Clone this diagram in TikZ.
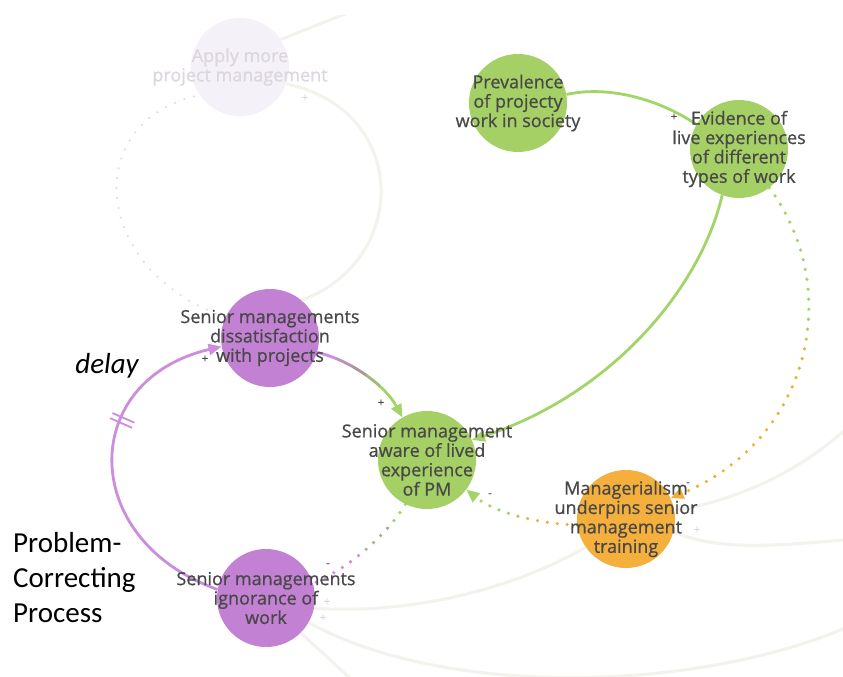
\documentclass[tikz,border=0pt]{standalone}
\usepackage{fontspec}
\usetikzlibrary{arrows.meta,decorations.markings}
\newfontfamily\nodefont{Open Sans}[FakeBold=0.7,BoldFont={Open Sans},BoldFeatures={FakeBold=0.7}]
\newfontfamily\calfont{Carlito}

\definecolor{purp}{HTML}{C281D3}
\definecolor{purpedge}{HTML}{CC8EDC}
\definecolor{grn}{HTML}{A4D065}
\definecolor{grnedge}{HTML}{A3D468}
\definecolor{orng}{HTML}{F4AF3C}
\definecolor{orngdot}{HTML}{F0B038}
\definecolor{brownmid}{HTML}{A89694}
\definecolor{olivemid}{HTML}{B0AC8E}
\definecolor{faintfill}{HTML}{F5F1F8}
\definecolor{faintline}{HTML}{F4F2ED}
\definecolor{fainttext}{HTML}{DCD6DE}
\definecolor{txt}{HTML}{484848}

\tikzset{
  circ/.style={circle, minimum size=98pt, inner sep=0pt, draw=none},
  lbl/.style={font=\nodefont\bfseries\fontsize{18}{19.4}\selectfont, text=txt, align=center, inner sep=0pt},
  pol/.style={font=\nodefont\fontsize{11}{12}\selectfont, text=txt, inner sep=0pt},
  faintpol/.style={pol, text=fainttext},
  solidedge/.style={line width=2.8pt},
  dotedge/.style={line width=3.6pt, line cap=round, dash pattern=on 0pt off 10pt},
  faintedge/.style={line width=3pt, faintline},
  tip/.style={-{Triangle[length=13pt,width=11pt]}},
  notip/.style={-{Triangle[length=0.01pt,width=0.01pt]}},
  bigtext/.style={font=\calfont\fontsize{29}{35}\selectfont, text=black, inner sep=0pt}
}

% connectors that change colour along their length
\newcommand\dissatAware[1]{\draw[solidedge, tip, #1] (dissat.-17) .. controls (350,360) and (385,385) .. (aware.120);}
\newcommand\evidManag[1]{\draw[dotedge, tip, #1] (evid.-52) .. controls (845,290) and (810,440) .. (manag.25);}
\newcommand\managAware[1]{\draw[dotedge, tip, #1] (manag.187) .. controls (540,524) and (495,513) .. (aware.-37);}
\newcommand\awareIgnor[1]{\draw[dotedge, notip, #1] (aware.244) .. controls (390,530) and (355,565) .. (ignor.17);}

\begin{document}
\begin{tikzpicture}[x=1pt,y=-1pt]
\useasboundingbox (0,0) rectangle (843,677);
\fill[white] (0,0) rectangle (843,677);

\begin{scope}
\clip (0,16) rectangle (843,677);

% factors
\node[circ, fill=faintfill] (apply) at (240,67) {};
\node[circ, fill=grn] (prev) at (518,103) {};
\node[circ, fill=grn] (evid) at (739,149) {};
\node[circ, fill=purp] (dissat) at (270,338) {};
\node[circ, fill=grn] (aware) at (427,460) {};
\node[circ, fill=orng] (manag) at (626,519) {};
\node[circ, fill=purp] (ignor) at (266,598) {};

% faded connectors outside the loop
\coordinate (topexit) at (350,12);
\coordinate (rightA) at (845,430);
\coordinate (rightB) at (845,540);
\coordinate (rightC) at (845,628);
\coordinate (bottomexit) at (352,680);
\draw[faintedge] (apply.34) -- (topexit);
\draw[faintedge] (apply.-20) .. controls (410,110) and (410,260) .. (dissat.50);
\draw[dotedge, black!12, line width=2.5pt] (dissat.155) .. controls (90,270) and (80,120) .. (apply.215);
\draw[faintedge] (ignor.-12) .. controls (420,615) and (520,585) .. (manag.215);
\draw[faintedge] (ignor.-30) .. controls (450,700) and (700,690) .. (rightC);
\draw[faintedge] (ignor.-45) -- (bottomexit);
\draw[faintedge] (manag.10) .. controls (740,500) and (800,470) .. (rightA);
\draw[faintedge] (manag.-15) .. controls (720,552) and (780,545) .. (rightB);

% green links
\draw[solidedge, grnedge] (prev.10) .. controls (610,85) and (660,100) .. (evid.150);
\draw[solidedge, grnedge, tip] (evid.250) .. controls (700,290) and (610,395) .. (aware.24);

% evidence -> managerialism, green fading into orange
\begin{scope}\clip (0,0) rectangle (843,320); \evidManag{grnedge} \end{scope}
\begin{scope}\clip (0,320) rectangle (843,345); \evidManag{grnedge!50!orngdot} \end{scope}
\begin{scope}\clip (0,345) rectangle (843,375); \evidManag{orngdot!80!grnedge} \end{scope}
\begin{scope}\clip (0,375) rectangle (843,677); \evidManag{orngdot} \end{scope}

% managerialism -> awareness, orange fading into green
\begin{scope}\clip (545,0) rectangle (843,677); \managAware{orngdot} \end{scope}
\begin{scope}\clip (515,0) rectangle (545,677); \managAware{orngdot!50!grnedge} \end{scope}
\begin{scope}\clip (0,0) rectangle (515,677); \managAware{grnedge} \end{scope}

% dissatisfaction -> awareness, purple fading into green
\begin{scope}\clip (0,0) rectangle (337,677); \dissatAware{purpedge} \end{scope}
\begin{scope}\clip (337,0) rectangle (352,677); \dissatAware{purpedge!50!brownmid} \end{scope}
\begin{scope}\clip (352,0) rectangle (366,677); \dissatAware{brownmid} \end{scope}
\begin{scope}\clip (366,0) rectangle (380,677); \dissatAware{brownmid!50!grnedge} \end{scope}
\begin{scope}\clip (380,0) rectangle (843,677); \dissatAware{grnedge} \end{scope}

% awareness -> ignorance, green fading into purple
\begin{scope}\clip (0,0) rectangle (843,527); \awareIgnor{grnedge} \end{scope}
\begin{scope}\clip (0,527) rectangle (843,552); \awareIgnor{olivemid} \end{scope}
\begin{scope}\clip (0,552) rectangle (843,677); \awareIgnor{purpedge} \end{scope}

% the delayed balancing link
\draw[solidedge, purpedge, tip, postaction={decorate},
  decoration={markings, mark=at position 0.63 with {
    \draw[-, purpedge, line width=1.8pt] (-2.8,-12) -- (-2.8,12) (2.8,-12) -- (2.8,12);}}]
  (ignor.170) .. controls (78,540) and (78,380) .. (dissat.190);

% polarity signs
\node[pol] (s1) at (674,117) {+};
\node[pol] (s2) at (381,403) {+};
\node[pol] (s3) at (205,359) {+};
\node[pol] (s4) at (490,495) {-};
\node[pol] (s5) at (328,565) {-};
\node[pol] (s6) at (688,484) {-};
\node[faintpol] (s7) at (305,98) {+};
\node[faintpol] (s8) at (327,602) {+};
\node[faintpol] (s9) at (323,618) {+};
\node[faintpol] (s10) at (697,530) {+};

% factor names
\node[lbl, text=fainttext] (applyt) at (apply) {Apply more\\project management};
\node[lbl] (prevt) at (prev) {Prevalence\\of projecty\\work in society};
\node[lbl] (evidt) at (evid) {Evidence of\\live experiences\\of different\\types of work};
\node[lbl] (dissatt) at (dissat) {Senior managements\\dissatisfaction\\with projects};
\node[lbl] (awaret) at (aware) {Senior management\\aware of lived\\experience\\of PM};
\node[lbl] (managt) at (manag) {Managerialism\\underpins senior\\management\\training};
\node[lbl] (ignort) at (ignor) {Senior managements\\ignorance of\\work};
\end{scope}

% annotations
\node[bigtext, font=\calfont\itshape\fontsize{29}{35}\selectfont, anchor=base] (delayt) at (107,373) {delay};
\node[bigtext, anchor=base west] (probA) at (13,552) {Problem-};
\node[bigtext, anchor=base west] (probB) at (13,587) {Correcting};
\node[bigtext, anchor=base west] (probC) at (13,622) {Process};
\end{tikzpicture}
\end{document}
